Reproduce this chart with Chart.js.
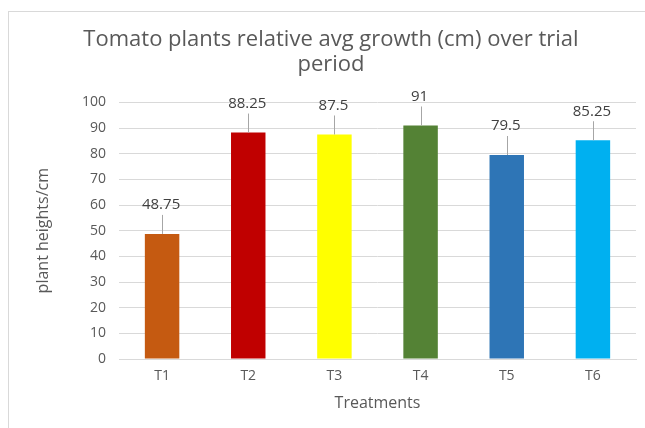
<!DOCTYPE html>
<html>
<head>
<meta charset="utf-8">
<script src="https://cdn.jsdelivr.net/npm/chart.js@4.4.1/dist/chart.umd.min.js"></script>
<style>
  html, body { margin: 0; padding: 0; background: #fff; }
  #frame { position: absolute; left: 8px; top: 11px; width: 700px; height: 500px; border: 1px solid #d9d9d9; }
  #wrap { position: absolute; left: 0; top: 0; width: 645px; height: 428px; }
</style>
</head>
<body>
<div id="frame"></div>
<div id="wrap"><canvas id="growthChart" width="645" height="428"></canvas></div>
<script>
// chart data
const treatments = ['T1', 'T2', 'T3', 'T4', 'T5', 'T6'];
const avgGrowth = [48.75, 88.25, 87.5, 91, 79.5, 85.25];
const barColors = ['#C55A11', '#C00000', '#FFFF00', '#548235', '#2E75B6', '#00B0F0'];
const yTicks = [0, 10, 20, 30, 40, 50, 60, 70, 80, 90, 100];

const FONT = "'Open Sans', sans-serif";

// value labels above the bars, with a short leader line
const barLabels = {
    id: 'barLabels',
    afterDatasetsDraw(chart) {
        const ctx = chart.ctx;
        const meta = chart.getDatasetMeta(0);
        ctx.save();
        ctx.font = '15px ' + FONT;
        ctx.fillStyle = '#404040';
        ctx.strokeStyle = '#a6a6a6';
        ctx.lineWidth = 1;
        ctx.textAlign = 'center';
        ctx.textBaseline = 'middle';
        meta.data.forEach(function(bar, i) {
            const x = Math.round(bar.x) + 0.5;
            ctx.beginPath();
            ctx.moveTo(x, bar.y - 19);
            ctx.lineTo(x, bar.y);
            ctx.stroke();
            ctx.fillText(String(avgGrowth[i]), bar.x - 1, bar.y - 29);
        });
        ctx.restore();
    }
};

const ctx = document.getElementById('growthChart').getContext('2d');

const growthChart = new Chart(ctx, {
    type: 'bar',
    data: {
        labels: treatments,
        datasets: [{
            label: 'plant heights/cm',
            data: avgGrowth,
            backgroundColor: barColors,
            borderWidth: 0,
            barPercentage: 0.4,
            categoryPercentage: 1.0
        }]
    },
    options: {
        responsive: false,
        animation: false,
        layout: { padding: { top: 0, right: 9, bottom: 15, left: 26 } },
        plugins: {
            legend: { display: false },
            tooltip: { enabled: false },
            title: {
                display: true,
                text: ['Tomato plants relative avg growth (cm) over trial', 'period'],
                color: '#595959',
                font: { family: FONT, size: 22, weight: 'normal', lineHeight: 1.1 },
                padding: { top: 28, bottom: 26 }
            }
        },
        scales: {
            x: {
                grid: { display: false, drawTicks: false },
                border: { color: '#d9d9d9' },
                ticks: { color: '#595959', font: { family: FONT, size: 14 }, padding: 9 },
                afterFit(scale) {
                    scale.height = 54;
                },
                title: {
                    display: true,
                    text: 'Treatments',
                    color: '#595959',
                    font: { family: FONT, size: 16 },
                    padding: { top: 6, bottom: 0 }
                }
            },
            y: {
                min: 0,
                max: 100,
                afterBuildTicks(scale) {
                    scale.ticks = yTicks.map(v => ({ value: v }));
                },
                afterFit(scale) {
                    scale.width = 93;
                },
                grid: { color: '#d9d9d9', drawTicks: false },
                border: { display: false },
                ticks: { color: '#595959', font: { family: FONT, size: 14 }, padding: 13 },
                title: {
                    display: true,
                    text: 'plant heights/cm',
                    color: '#595959',
                    font: { family: FONT, size: 16 },
                    padding: { top: 8, bottom: 0 }
                }
            }
        }
    },
    plugins: [barLabels]
});
</script>
</body>
</html>
